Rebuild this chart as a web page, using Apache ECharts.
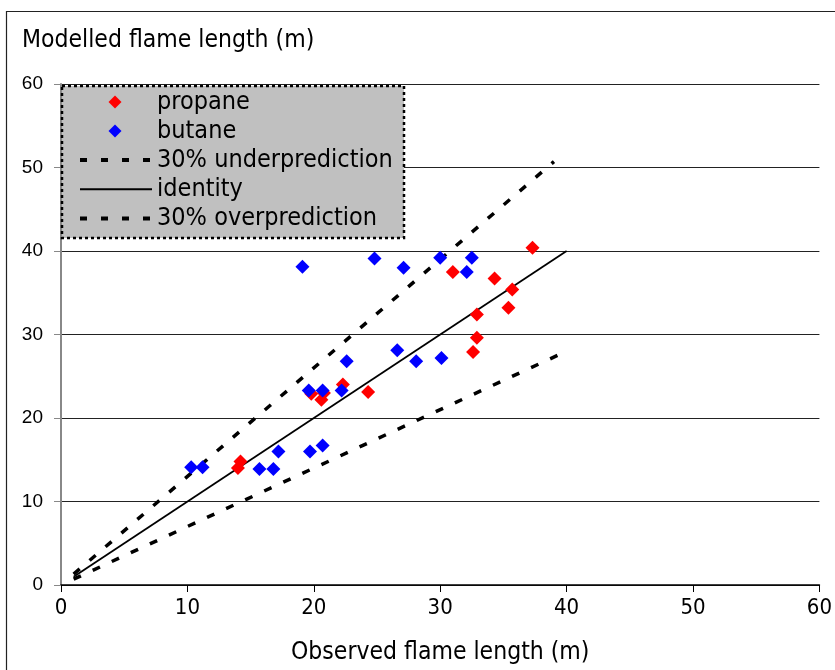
<!DOCTYPE html>
<html>
<head>
<meta charset="utf-8">
<title>Modelled vs observed flame length</title>
<script src="https://cdn.jsdelivr.net/npm/echarts@6/dist/echarts.min.js"></script>
<style>
  html, body { margin: 0; padding: 0; background: #fff; }
  #chart { width: 835px; height: 670px; }
</style>
</head>
<body>
<div id="chart"></div>
<script>
// Observed (x) vs modelled (y) flame length, metres
const propane = [
  [14.0, 14.0], [14.2, 14.8], [19.8, 22.9], [20.6, 22.2], [20.8, 23.0],
  [22.3, 24.0], [24.3, 23.1], [31.0, 37.5], [34.3, 36.7], [35.7, 35.4],
  [35.4, 33.2], [32.9, 32.4], [32.9, 29.6], [32.6, 27.9], [37.3, 40.4]
];
const butane = [
  [10.3, 14.1], [11.2, 14.1], [15.7, 13.9], [16.8, 13.9], [17.2, 16.0],
  [19.7, 16.0], [20.7, 16.7], [19.1, 38.1], [19.6, 23.3], [20.7, 23.3],
  [22.2, 23.3], [22.6, 26.8], [24.8, 39.1], [27.1, 38.0], [26.6, 28.1],
  [28.1, 26.8], [30.1, 27.2], [30.0, 39.2], [32.5, 39.2], [32.1, 37.5]
];
// Reference lines (end points)
const underprediction = [[1, 1.3], [39, 50.7]];
const identity = [[1, 1], [40, 40]];
const overprediction = [[1, 0.7], [40, 28]];

const seriesNames = ['propane', 'butane', '30% underprediction', 'identity', '30% overprediction'];
const xTicks = [0, 10, 20, 30, 40, 50, 60];
const yTicks = [0, 10, 20, 30, 40, 50, 60];

const FONT = 'DejaVu Sans Condensed';
const chart = echarts.init(document.getElementById('chart'));

const dashStyle = { color: '#000', width: 3.5, type: [8, 13], cap: 'butt' };
const legendDash = { color: '#000', width: 4, type: [7, 14], cap: 'butt' };
const legendText = { fontFamily: FONT, fontSize: 25, lineHeight: 25, color: '#000' };

chart.setOption({
  animation: false,
  backgroundColor: '#fff',
  title: {
    text: 'Modelled flame length (m)',
    left: 22, top: 28, padding: 0,
    textStyle: { fontFamily: FONT, fontSize: 24.5, fontWeight: 'normal', color: '#000' }
  },
  graphic: [
    { type: 'rect', z: 0, silent: true,
      shape: { x: 6.5, y: 11.5, width: 900, height: 700 },
      style: { fill: 'none', stroke: '#222', lineWidth: 1.2 } },
    { type: 'rect', z: 50, silent: true,
      shape: { x: 62, y: 86, width: 342, height: 152 },
      style: { fill: '#c0c0c0', stroke: '#000', lineWidth: 2.5, lineDash: [3, 3] } }
  ],
  legend: [
    {
      z: 60,
      orient: 'vertical',
      left: 108.5, top: 89.5, padding: 0,
      itemWidth: 13, itemHeight: 13, itemGap: 4,
      textStyle: Object.assign({ padding: [0, 0, 0, 30.5] }, legendText),
      data: [
        { name: seriesNames[0], icon: 'diamond' },
        { name: seriesNames[1], icon: 'diamond' }
      ]
    },
    {
      z: 60,
      orient: 'vertical',
      left: 78, top: 147.5, padding: 0,
      itemWidth: 72, itemHeight: 14, itemGap: 4.3,
      textStyle: legendText,
      data: [
        { name: seriesNames[2], itemStyle: { opacity: 0 }, lineStyle: legendDash },
        { name: seriesNames[3], itemStyle: { opacity: 0 }, lineStyle: { color: '#000', width: 2, type: 'solid' } },
        { name: seriesNames[4], itemStyle: { opacity: 0 }, lineStyle: legendDash }
      ]
    }
  ],
  grid: { left: 61, right: 15, top: 84, bottom: 84, containLabel: false },
  xAxis: {
    type: 'value', min: xTicks[0], max: xTicks[xTicks.length - 1], interval: 10,
    name: 'Observed flame length (m)', nameLocation: 'middle', nameGap: 55,
    nameTextStyle: { fontFamily: FONT, fontSize: 24.5, color: '#000' },
    axisLine: { show: true, onZero: false, lineStyle: { color: '#000', width: 1.5 } },
    axisTick: { show: true, length: 7, lineStyle: { color: '#000' } },
    axisLabel: { fontFamily: FONT, fontSize: 22, color: '#000', margin: 12,
                 formatter: v => xTicks.includes(v) ? String(v) : '' },
    splitLine: { show: false }
  },
  yAxis: {
    type: 'value', min: yTicks[0], max: yTicks[yTicks.length - 1], interval: 10,
    axisLine: { show: true, onZero: false, lineStyle: { color: '#888', width: 2 } },
    axisTick: { show: true, length: 7, lineStyle: { color: '#888' } },
    axisLabel: { fontFamily: 'Liberation Sans', fontSize: 19, color: '#000', margin: 18,
                 formatter: v => yTicks.includes(v) ? String(v) : '' },
    splitLine: { show: true, lineStyle: { color: '#222', width: 1.2 } }
  },
  series: [
    { name: seriesNames[0], type: 'scatter', data: propane, symbol: 'diamond', symbolSize: 14,
      itemStyle: { color: '#ff0000', opacity: 1 }, z: 5 },
    { name: seriesNames[1], type: 'scatter', data: butane, symbol: 'diamond', symbolSize: 14,
      itemStyle: { color: '#0000ff', opacity: 1 }, z: 5 },
    { name: seriesNames[2], type: 'line', data: underprediction, symbol: 'none',
      lineStyle: dashStyle, itemStyle: { color: '#000' }, z: 3 },
    { name: seriesNames[3], type: 'line', data: identity, symbol: 'none',
      lineStyle: { color: '#000', width: 1.8 }, itemStyle: { color: '#000' }, z: 3 },
    { name: seriesNames[4], type: 'line', data: overprediction, symbol: 'none',
      lineStyle: dashStyle, itemStyle: { color: '#000' }, z: 3 }
  ]
});
</script>
</body>
</html>
